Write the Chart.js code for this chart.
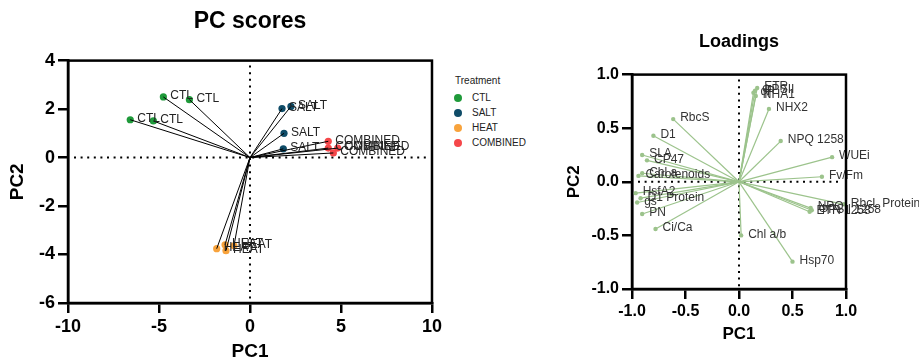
<!DOCTYPE html>
<html>
<head>
<meta charset="utf-8">
<script src="https://cdn.jsdelivr.net/npm/chart.js@4/dist/chart.umd.min.js"></script>
<style>
  body { margin: 0; background: #fff; width: 919px; height: 363px; overflow: hidden; position: relative;
         font-family: 'Liberation Sans', Arial, sans-serif; }
  #scores { position: absolute; left: 0; top: 0; }
  #loadings { position: absolute; left: 560px; top: 0; }
  #legend { position: absolute; left: 0; top: 0; font-size: 10px; color: #222; }
  #legend div { position: absolute; white-space: nowrap; line-height: 12px; }
  #legend span { position: absolute; width: 8px; height: 8px; border-radius: 50%; }
</style>
</head>
<body>
<canvas id="scores" width="445" height="363"></canvas>
<canvas id="loadings" width="359" height="363"></canvas>
<div id="legend"></div>
<script>
// PC scores, 4 replicates per treatment
const treatments = ['CTL', 'SALT', 'HEAT', 'COMBINED'];
const ctlPC1 = [-4.76, -3.33, -6.58, -5.31];
const ctlPC2 = [2.50, 2.39, 1.56, 1.51];
const saltPC1 = [1.76, 2.25, 1.87, 1.83];
const saltPC2 = [2.02, 2.11, 1.00, 0.36];
const heatPC1 = [-1.83, -1.37, -0.88, -1.32];
const heatPC2 = [-3.76, -3.60, -3.64, -3.84];
const combPC1 = [4.30, 4.30, 4.82, 4.58];
const combPC2 = [0.67, 0.39, 0.39, 0.19];
const scoreTicksX = [-10, -5, 0, 5, 10];
const scoreTicksY = [-6, -4, -2, 0, 2, 4];

// loadings
const loadingNames = ['ETR', 'ΦPSII', 'qP', 'NHA1', 'NHX2', 'NPQ 1258', 'WUEi', 'Fv/Fm',
  'RbcL Protein', 'NPQ', 'ΦPSII 1258', 'ETR 1258', 'Chl a/b', 'Hsp70', 'Ci/Ca', 'PN',
  'gs', 'D1 Protein', 'HsfA2', 'Carotenoids', 'Chl a', 'CP47', 'SLA', 'D1', 'RbcS'];
const loadingPC1 = [0.17, 0.15, 0.135, 0.157, 0.28, 0.39, 0.87, 0.775,
  0.98, 0.67, 0.68, 0.66, 0.02, 0.50, -0.78, -0.905,
  -0.952, -0.92, -0.966, -0.94, -0.905, -0.86, -0.905, -0.80, -0.615];
const loadingPC2 = [0.875, 0.85, 0.83, 0.80, 0.68, 0.38, 0.23, 0.047,
  -0.21, -0.245, -0.265, -0.28, -0.50, -0.745, -0.44, -0.30,
  -0.193, -0.153, -0.106, 0.055, 0.08, 0.20, 0.25, 0.43, 0.585];
const loadingTicks = [-1.0, -0.5, 0.0, 0.5, 1.0];

const colors = { CTL: '#1f9a3a', SALT: '#0f4c68', HEAT: '#f8a33c', COMBINED: '#f5474a' };
const loadingColor = '#9cc38c';
const FONT = "'Liberation Sans', Arial, sans-serif";

const groups = [
  { name: 'CTL', x: ctlPC1, y: ctlPC2 },
  { name: 'SALT', x: saltPC1, y: saltPC2 },
  { name: 'HEAT', x: heatPC1, y: heatPC2 },
  { name: 'COMBINED', x: combPC1, y: combPC2 }
];

// zero lines, frame and point labels
function decoPlugin(labels, labelColor) {
  return {
    id: 'deco',
    beforeDatasetsDraw(chart) {
      const { ctx, chartArea: a, scales: { x, y } } = chart;
      ctx.save();
      ctx.strokeStyle = '#000';
      ctx.lineWidth = 2;
      ctx.setLineDash([2, 4.6]);
      const x0 = x.getPixelForValue(0), y0 = y.getPixelForValue(0);
      ctx.beginPath();
      ctx.moveTo(a.left + 6, y0); ctx.lineTo(a.right - 4, y0);
      ctx.moveTo(x0, a.top + 5); ctx.lineTo(x0, a.bottom);
      ctx.stroke();
      ctx.restore();
    },
    afterDatasetsDraw(chart) {
      const { ctx, chartArea: a, scales: { x, y } } = chart;
      ctx.save();
      ctx.font = '12px ' + FONT;
      ctx.fillStyle = labelColor;
      ctx.textBaseline = 'middle';
      labels.forEach(l => ctx.fillText(l.text, x.getPixelForValue(l.x) + 7, y.getPixelForValue(l.y) - 1));
      ctx.strokeStyle = '#000';
      ctx.lineWidth = 2.5;
      ctx.strokeRect(a.left, a.top, a.right - a.left, a.bottom - a.top);
      ctx.restore();
    }
  };
}

function axis(min, max, ticks, decimals, title, tickSize, titleSize, titlePad, fit) {
  return {
    type: 'linear', min, max,
    afterBuildTicks: s => { s.ticks = ticks.map(v => ({ value: v })); },
    ticks: {
      color: '#000', padding: 3,
      font: { family: FONT, size: tickSize, weight: 'bold' },
      callback: v => v.toFixed(decimals)
    },
    grid: { drawOnChartArea: false, drawTicks: true, tickLength: 10, color: '#000', lineWidth: 2.5 },
    border: { color: '#000', width: 2.5 },
    title: { display: true, text: title, color: '#000', padding: { top: titlePad, bottom: 0 },
             font: { family: FONT, size: titleSize, weight: 'bold' } },
    afterFit: fit
  };
}

// ---- PC scores ----
const scoreSets = [];
const scoreLabels = [];
groups.forEach(g => {
  g.x.forEach((v, i) => {
    scoreSets.push({ data: [{ x: 0, y: 0 }, { x: v, y: g.y[i] }], showLine: true,
      borderColor: '#000', borderWidth: 1, pointRadius: 0 });
    scoreLabels.push({ text: g.name, x: v, y: g.y[i] });
  });
});
groups.forEach(g => {
  scoreSets.push({ label: g.name, data: g.x.map((v, i) => ({ x: v, y: g.y[i] })),
    backgroundColor: colors[g.name], borderColor: colors[g.name], pointRadius: 3.6, borderWidth: 0 });
});

new Chart(document.getElementById('scores'), {
  type: 'scatter',
  data: { datasets: scoreSets },
  options: {
    responsive: false, animation: false,
    layout: { padding: { right: 13 } },
    plugins: {
      legend: { display: false }, tooltip: { enabled: false },
      title: { display: true, fullSize: false, text: 'PC scores', color: '#000', padding: { top: 8, bottom: 25 },
               font: { family: FONT, size: 23, weight: 'bold' } }
    },
    scales: {
      x: axis(-10, 10, scoreTicksX, 0, 'PC1', 18, 19, 2, s => { s.height = 60; }),
      y: axis(-6, 4, scoreTicksY, 0, 'PC2', 18, 19, 6, s => { s.width = 68; })
    }
  },
  plugins: [decoPlugin(scoreLabels, '#222')]
});

// ---- legend ----
const legend = document.getElementById('legend');
const head = document.createElement('div');
head.textContent = 'Treatment';
head.style.left = '455px'; head.style.top = '75px';
legend.appendChild(head);
treatments.forEach((t, i) => {
  const row = document.createElement('div');
  row.style.left = '472px'; row.style.top = (92 + i * 15) + 'px';
  row.textContent = t;
  const dot = document.createElement('span');
  dot.style.background = colors[t];
  dot.style.left = '-18px'; dot.style.top = '2px';
  row.appendChild(dot);
  legend.appendChild(row);
});

// ---- Loadings ----
const loadSets = loadingNames.map((n, i) => ({
  data: [{ x: 0, y: 0 }, { x: loadingPC1[i], y: loadingPC2[i] }], showLine: true,
  borderColor: loadingColor, borderWidth: 1.2, pointRadius: [0, 2.2],
  backgroundColor: loadingColor, pointBorderWidth: 0
}));
const loadLabels = loadingNames.map((n, i) => ({ text: n, x: loadingPC1[i], y: loadingPC2[i] }));

new Chart(document.getElementById('loadings'), {
  type: 'scatter',
  data: { datasets: loadSets },
  options: {
    responsive: false, animation: false,
    layout: { padding: { right: 73, bottom: 18 } },
    plugins: {
      legend: { display: false }, tooltip: { enabled: false },
      title: { display: true, fullSize: false, text: 'Loadings', color: '#000', padding: { top: 31, bottom: 22 },
               font: { family: FONT, size: 18, weight: 'bold' } }
    },
    scales: {
      x: axis(-1, 1, loadingTicks, 1, 'PC1', 16, 17, 2, s => { s.height = 56; }),
      y: axis(-1, 1, loadingTicks, 1, 'PC2', 16, 17, 4, s => { s.width = 72; })
    }
  },
  plugins: [decoPlugin(loadLabels, '#333')]
});
</script>
</body>
</html>
